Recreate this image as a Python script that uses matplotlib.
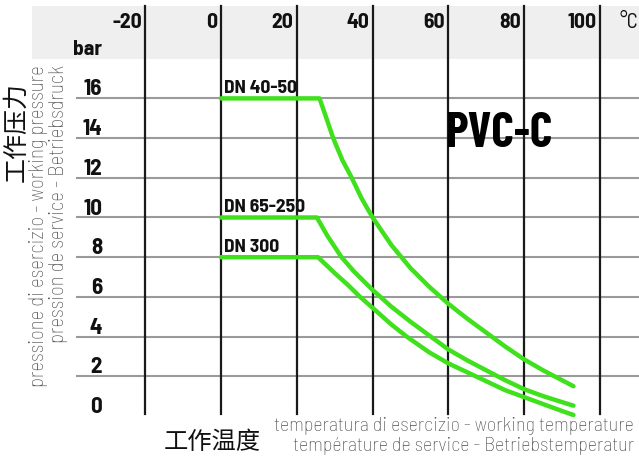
import matplotlib
matplotlib.use("Agg")
import matplotlib.pyplot as plt
from matplotlib.patches import Rectangle

# ---- data ----
x_ticks = [-20, 0, 20, 40, 60, 80, 100]
y_ticks = [0, 2, 4, 6, 8, 10, 12, 14, 16]

t_dn40 = [0, 26, 28, 29.6, 32, 34.5, 37, 40, 45, 50, 55, 60, 65, 70, 75, 80, 85, 90, 93]
p_dn40 = [16, 16, 14.9, 14, 12.9, 12, 11.0, 10, 8.6, 7.45, 6.5, 5.65, 4.9, 4.2, 3.5, 2.85, 2.3, 1.8, 1.5]

t_dn65 = [0, 25.3, 28, 31.8, 35, 40, 45, 50, 55, 60, 65, 70, 75, 80, 85, 90, 93]
p_dn65 = [10, 10, 9.1, 8, 7.3, 6.35, 5.5, 4.75, 4.05, 3.35, 2.8, 2.3, 1.8, 1.35, 1.0, 0.7, 0.52]

t_dn300 = [0, 25.6, 30, 33.5, 36.7, 40, 45, 49, 55, 60, 65, 70, 75, 80, 85, 90, 93]
p_dn300 = [8, 8, 7.2, 6.6, 6, 5.45, 4.6, 4.0, 3.2, 2.65, 2.2, 1.75, 1.3, 0.95, 0.6, 0.25, 0.05]

series = [("DN 40-50", t_dn40, p_dn40),
          ("DN 65-250", t_dn65, p_dn65),
          ("DN 300", t_dn300, p_dn300)]

# ---- figure ----
W, H = 639, 465
fig = plt.figure(figsize=(W / 100, H / 100), dpi=100)
ax = fig.add_axes([0, 0, 1, 1])
ax.set_axis_off()

px_per_x = 3.79
px_per_y = 19.85
x0_px, y0_px = 221, 416
xmin = -x0_px / px_per_x
xmax = (W - x0_px) / px_per_x
ymin = (y0_px - H) / px_per_y
ymax = y0_px / px_per_y
ax.set_xlim(xmin, xmax)
ax.set_ylim(ymin, ymax)

def dx(px):
    return (px - x0_px) / px_per_x

def dy(py):
    return (y0_px - py) / px_per_y

bold_narrow = ["Barlow Semi Condensed", "Liberation Sans", "DejaVu Sans"]
bold_cond = ["Barlow Condensed", "Liberation Sans", "DejaVu Sans"]
light_narrow = ["Barlow Semi Condensed", "Liberation Sans", "DejaVu Sans"]
cjk = ["Noto Sans CJK SC", "DejaVu Sans"]
grey_txt = "#4e4e4e"

# grey header band
ax.add_patch(Rectangle((dx(32), dy(59)), xmax - dx(32), dy(6) - dy(59),
                       facecolor="#efefef", edgecolor="none", zorder=0))

# horizontal grid
for v in y_ticks[1:]:
    ax.plot([dx(77), xmax], [v, v], color="#9a9a9a", lw=1.5, zorder=1)
# vertical grid
for t in x_ticks:
    ax.plot([t, t], [dy(414), dy(6)], color="#1a1a1a", lw=1.6, zorder=2)

# curves
for name, t, p in series:
    ax.plot(t, p, color="#3fe01c", lw=3.2, solid_capstyle="round",
            solid_joinstyle="round", zorder=3)
    ax.text(t[0] + 0.8, p[0] + 0.28, name, fontfamily=bold_narrow, fontweight="bold",
            fontsize=14, ha="left", va="baseline", color="#111", zorder=4)

# tick labels
for t in x_ticks:
    ax.text(t - 0.9, dy(22), str(t), fontfamily=bold_narrow, fontweight="bold",
            fontsize=15.5, ha="right", va="center", color="#111")
ax.text(dx(638), dy(22), "°C", fontfamily=bold_narrow, fontsize=15,
        ha="right", va="center", color="#111")
for v in y_ticks:
    ax.text(dx(102), v + 0.45, str(v), fontfamily=bold_narrow, fontweight="bold",
            fontsize=16.5, ha="right", va="center", color="#111")
ax.text(dx(102), dy(50), "bar", fontfamily=bold_narrow, fontweight="bold",
        fontsize=15.5, ha="right", va="center", color="#111")

# PVC-C
ax.text(dx(500), dy(134), "PVC-C", fontfamily=bold_cond, fontweight="bold",
        fontsize=35, ha="center", va="center", color="#000")

# y labels
ax.text(dx(16), dy(82), "工作压力", fontfamily=cjk,
        fontsize=18, rotation=90, ha="center", va="top", color="#111")
ax.text(dx(39), dy(65), "pressione di esercizio - working pressure", fontfamily=light_narrow,
        fontweight="light", fontsize=15, rotation=90, ha="center", va="top", color=grey_txt)
ax.text(dx(58), dy(65), "pression de service - Betriebsdruck", fontfamily=light_narrow,
        fontweight="light", fontsize=15, rotation=90, ha="center", va="top", color=grey_txt)

# x labels
ax.text(dx(212), dy(442), "工作温度", fontfamily=cjk,
        fontsize=17.5, ha="center", va="center", color="#111")
ax.text(dx(634), dy(426), "temperatura di esercizio - working temperature",
        fontfamily=light_narrow, fontweight="light", fontsize=14.5,
        ha="right", va="center", color=grey_txt)
ax.text(dx(634), dy(446), "température de service - Betriebstemperatur",
        fontfamily=light_narrow, fontweight="light", fontsize=14.5,
        ha="right", va="center", color=grey_txt)

fig.savefig("out.png", dpi=100)
